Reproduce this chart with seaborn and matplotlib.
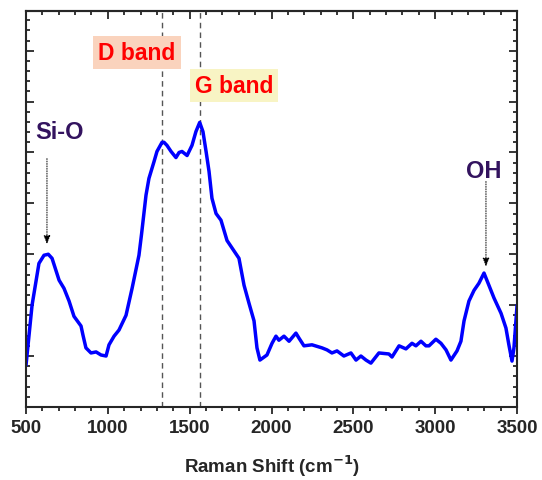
import matplotlib
matplotlib.use("Agg")
import matplotlib.pyplot as plt
from matplotlib.ticker import MultipleLocator, NullFormatter
import seaborn as sns
import pandas as pd

# spectrum (arbitrary intensity units)
shift = [500, 537, 579, 610, 636, 659, 702, 732, 763, 793, 836, 848, 866, 897, 928,
         958, 989, 1007, 1038, 1068, 1111, 1148, 1190, 1206, 1233, 1251, 1282, 1300,
         1331, 1343, 1361, 1386, 1416, 1435, 1453, 1484, 1514, 1538, 1561, 1581, 1600,
         1618, 1636, 1661, 1691, 1728, 1801, 1832, 1862, 1893, 1911, 1929, 1972, 2003,
         2027, 2045, 2076, 2107, 2149, 2168, 2198, 2247, 2308, 2339, 2369, 2400, 2442,
         2485, 2516, 2546, 2577, 2607, 2656, 2717, 2736, 2779, 2821, 2858, 2882, 2913,
         2943, 2962, 3004, 3035, 3066, 3096, 3133, 3157, 3176, 3206, 3237, 3267, 3298,
         3328, 3359, 3402, 3432, 3450, 3469, 3481, 3500]
intensity = [-0.18, 1.0, 1.82, 1.98, 2.0, 1.92, 1.49, 1.33, 1.08, 0.78, 0.59, 0.41, 0.16,
             0.06, 0.08, 0.02, 0.0, 0.22, 0.39, 0.51, 0.80, 1.33, 1.98, 2.4, 3.16, 3.49,
             3.82, 4.02, 4.2, 4.2, 4.14, 4.02, 3.9, 4.0, 4.02, 3.94, 4.14, 4.41, 4.59,
             4.41, 4.02, 3.63, 3.1, 2.8, 2.67, 2.27, 1.92, 1.39, 1.04, 0.69, 0.16, -0.08,
             0.02, 0.25, 0.39, 0.31, 0.39, 0.29, 0.45, 0.35, 0.2, 0.22, 0.16, 0.12, 0.06,
             0.1, 0.0, 0.06, -0.08, 0.0, -0.08, -0.14, 0.06, 0.04, -0.02, 0.2, 0.14, 0.25,
             0.2, 0.29, 0.2, 0.2, 0.33, 0.25, 0.12, -0.08, 0.1, 0.29, 0.69, 1.08, 1.29,
             1.43, 1.63, 1.39, 1.14, 0.84, 0.55, 0.22, -0.1, 0.16, 1.0]

band_pos = [1331, 1563]
band_names = ["D band", "G band"]
peak_names = ["Si-O", "OH"]
peak_pos = [628, 3310]

df = pd.DataFrame({"shift": shift, "intensity": intensity})

sns.set_style("ticks")
plt.rcParams["font.family"] = ["Liberation Sans", "DejaVu Sans"]
plt.rcParams["font.weight"] = "bold"

fig = plt.figure(figsize=(5.42, 4.81), dpi=100)
ax = fig.add_axes([0.048, 0.152, 0.906, 0.823])

sns.lineplot(data=df, x="shift", y="intensity", ax=ax, color="#0000ff", lw=2.5)

for xb in band_pos:
    ax.axvline(xb, color="#555555", lw=1.0, ls=(0, (4, 3)), zorder=1)

ax.set_xlim(500, 3500)
ax.set_ylim(-1, 6.78)
ax.xaxis.set_major_locator(MultipleLocator(500))
ax.xaxis.set_minor_locator(MultipleLocator(100))
ax.yaxis.set_major_locator(MultipleLocator(1))
ax.yaxis.set_minor_locator(MultipleLocator(0.2))
ax.yaxis.set_major_formatter(NullFormatter())

ax.tick_params(axis="x", which="both", direction="out", bottom=True, top=False,
               labelsize=13.5, width=1.3)
ax.tick_params(axis="x", which="major", length=5)
ax.tick_params(axis="x", which="minor", length=3)
ax.tick_params(axis="y", which="both", direction="in", left=True, right=True, width=1.3)
ax.tick_params(axis="y", which="major", length=6)
ax.tick_params(axis="y", which="minor", length=3)

top = ax.secondary_xaxis("top")
top.xaxis.set_major_locator(MultipleLocator(500))
top.xaxis.set_minor_locator(MultipleLocator(100))
top.xaxis.set_major_formatter(NullFormatter())
top.tick_params(which="both", direction="in", width=1.3)
top.tick_params(which="major", length=6)
top.tick_params(which="minor", length=3)

for lbl in ax.get_xticklabels():
    lbl.set_fontweight("bold")
for s in list(ax.spines.values()) + [top.spines["top"]]:
    s.set_linewidth(1.5)

ax.set_xlabel("Raman Shift (cm$^{\\mathbf{-1}}$)", fontsize=13.5, fontweight="bold", labelpad=12)
ax.set_ylabel("")

# band labels with coloured boxes
ax.text(1178, 5.96, band_names[0], color="#ff0000", fontsize=16.5, fontweight="bold",
        ha="center", va="center",
        bbox=dict(boxstyle="square,pad=0.22", fc="#fad3bd", ec="none"))
ax.text(1771, 5.31, band_names[1], color="#ff0000", fontsize=16.5, fontweight="bold",
        ha="center", va="center",
        bbox=dict(boxstyle="square,pad=0.22", fc="#f8f4c4", ec="none"))

# peak labels with dotted arrows
arrow = dict(arrowstyle="-|>,head_length=0.5,head_width=0.2", color="black", lw=0.7,
             linestyle=(0, (1, 1.5)), shrinkA=0, shrinkB=0)
ax.text(702, 4.41, peak_names[0], color="#33135f", fontsize=17, fontweight="bold",
        ha="center", va="center")
ax.annotate("", xy=(peak_pos[0], 2.2), xytext=(peak_pos[0], 3.88), arrowprops=arrow)
ax.text(3298, 3.65, peak_names[1], color="#33135f", fontsize=17, fontweight="bold",
        ha="center", va="center")
ax.annotate("", xy=(peak_pos[1], 1.76), xytext=(peak_pos[1], 3.43), arrowprops=arrow)

fig.savefig("out.png", dpi=100)
